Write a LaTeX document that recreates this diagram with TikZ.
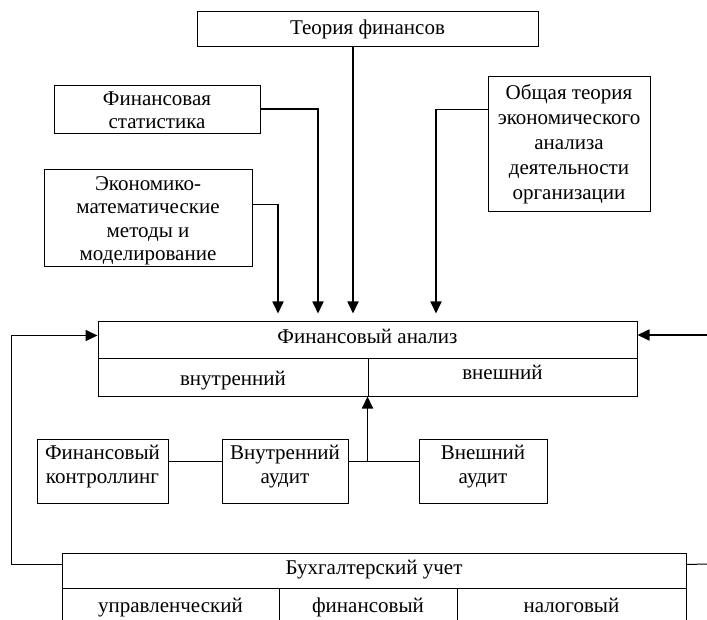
\documentclass[tikz,border=0pt]{standalone}
\usepackage{fontspec}
\setmainfont{Liberation Serif}
\usepackage{tikz}
\usetikzlibrary{arrows.meta}
\usetikzlibrary{calc}

\begin{document}
\begin{tikzpicture}[x=1pt, y=-1pt,
    box/.style={draw, line width=1pt, align=center, inner sep=0pt, font=\fontsize{21}{23.5}\selectfont},
    cell/.style={box, text height=15pt, text depth=2.6pt},
    arr/.style={line width=1.7pt, -{Triangle[length=12pt, width=11pt]}},
    link/.style={line width=1pt}]
        \clip (0,0) rectangle (707,620);

        \node [cell, minimum width=341, minimum height=35] (teoria) at (367.5,29.5) {\raisebox{1pt}{Теория финансов}};
        \node [box, minimum width=206, minimum height=48] (stat) at (157,110) {Финансовая\\статистика};
        \node [box, minimum width=208, minimum height=97, text depth=0pt] (econ) at (148,218.5) {Экономико-\\математические\\методы и\\моделирование};
        \node [box, minimum width=162, minimum height=135, font=\fontsize{21}{25}\selectfont] (obsh) at (569,144.5) {Общая теория\\экономического\\анализа\\деятельности\\организации};

        \node [cell, minimum width=539, minimum height=37] (fa) at (367.5,340.5) {\raisebox{3pt}{Финансовый анализ}};
        \node [cell, minimum width=270, minimum height=37] (fain) at (233,377.5) {\raisebox{-2pt}{внутренний}};
        \node [cell, minimum width=269, minimum height=37] (faex) at (502.5,377.5) {\raisebox{4pt}{внешний}};

        \node [box, minimum width=131, minimum height=64, text depth=13pt] (ctrl) at (102.5,471) {Финансовый\\контроллинг};
        \node [box, minimum width=126, minimum height=64, text depth=13pt] (vaud) at (285,471) {Внутренний\\аудит};
        \node [box, minimum width=128, minimum height=64, text depth=13pt] (eaud) at (483,471) {Внешний\\аудит};

        \node [cell, minimum width=624, minimum height=35] (buh) at (374,570.5) {\raisebox{2pt}{Бухгалтерский учет}};
        \node [cell, minimum width=217, minimum height=37] (buh1) at (170.5,606.5) {управленческий};
        \node [cell, minimum width=178, minimum height=37] (buh2) at (368,606.5) {финансовый};
        \node [cell, minimum width=229, minimum height=37] (buh3) at (571.5,606.5) {налоговый};

        \coordinate (rin) at (707,335);
        \coordinate (rout) at (707,564);
        \coordinate (aud) at (faex.south west |- vaud.east);

        \draw [arr, shorten >=8pt] (353,0 |- teoria.south) -- (353,0 |- fa.north);
        \draw [arr, shorten >=8pt] ([yshift=1pt]stat.east) -| (318,0 |- fa.north);
        \draw [arr, shorten >=8pt] ([yshift=14pt]econ.east) -| (278,0 |- fa.north);
        \draw [arr, shorten >=8pt] ([yshift=35pt]obsh.west) -| (436,0 |- fa.north);

        \draw [arr] ([yshift=6pt]buh.west) -- ++(-50,0) |- ([yshift=5pt]fa.west);
        \draw [arr] (rin) -- (rin -| fa.east);
        \draw [link] ([yshift=6pt]buh.east) -- (rout);

        \draw [link] ([yshift=10pt]ctrl.east) -- ([yshift=10pt]vaud.west);
        \draw [link] ([yshift=10pt]vaud.east) -- ([yshift=10pt]eaud.west);
        \draw [arr] ([yshift=10pt]aud) -- (faex.south west);
      \end{tikzpicture}
\end{document}
